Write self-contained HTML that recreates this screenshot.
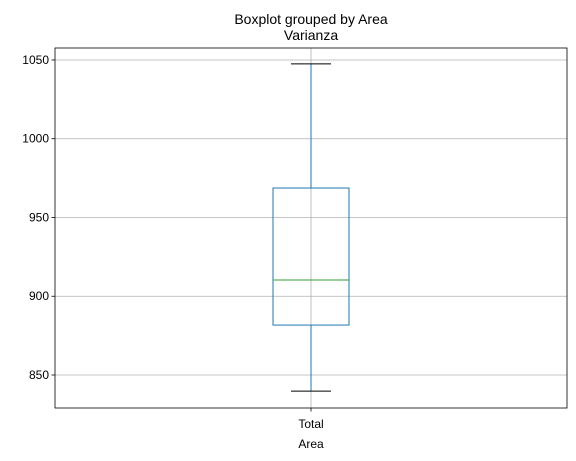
<!DOCTYPE html>
<html><head><meta charset="utf-8"><style>
body{margin:0;background:#fff;}
svg{display:block;font-family:"Liberation Sans","DejaVu Sans",sans-serif;}
</style></head><body>
<svg id="chart" width="576" height="461" xmlns="http://www.w3.org/2000/svg">
<text x="311" y="24" font-size="14" text-anchor="middle">Boxplot grouped by Area</text>
<text x="311" y="40" font-size="14" text-anchor="middle">Varianza</text>
<g id="grid"></g>
<g id="box"></g>
<rect x="55" y="48" width="512" height="360" fill="none" stroke="#000" stroke-width="0.8"/>
<g id="axes"></g>
<text x="311" y="448" font-size="12" text-anchor="middle">Area</text>
</svg>
<script>
const categories = ["Total"];
const whiskerLow = [839.8];
const q1 = [881.7];
const median = [910.3];
const q3 = [968.7];
const whiskerHigh = [1047.5];
const yTicks = [850, 900, 950, 1000, 1050];

const L=55,R=567,T=48,B=408,yMin=829.05,yMax=1057.6;
const y=v=>B-(v-yMin)/(yMax-yMin)*(B-T);
const x=i=>L+(R-L)*(i+1)/(categories.length+1);
const NS="http://www.w3.org/2000/svg";
function mk(tag,attrs,parent){const e=document.createElementNS(NS,tag);for(const k in attrs)e.setAttribute(k,attrs[k]);parent.appendChild(e);return e;}
const grid=document.getElementById('grid'),axes=document.getElementById('axes'),box=document.getElementById('box');
yTicks.forEach(t=>{
  const g=mk('line',{x1:L,x2:R,y1:y(t),y2:y(t),stroke:'#b0b0b0','stroke-width':0.8},grid);
  
  
  const tk=mk('line',{x1:L-3.5,x2:L,y1:y(t),y2:y(t),stroke:'#000','stroke-width':0.8},axes);
  
  
  const tx=mk('text',{x:L-6,y:y(t)+4,'font-size':12,'text-anchor':'end'},axes);
  tx.textContent=t;
  
  
});
categories.forEach((c,i)=>{
  const cx=x(i);
  const vg=mk('line',{x1:cx,x2:cx,y1:T,y2:B,stroke:'#b0b0b0','stroke-width':0.8},grid);
  
  
  const bw=76,cw=40;
  const w1=mk('line',{x1:cx,x2:cx,y1:y(whiskerHigh[i]),y2:y(q3[i]),stroke:'#1f77b4'},box);
  
  
  const w2=mk('line',{x1:cx,x2:cx,y1:y(q1[i]),y2:y(whiskerLow[i]),stroke:'#1f77b4'},box);
  
  
  const r=mk('rect',{x:cx-bw/2,y:y(q3[i]),width:bw,height:y(q1[i])-y(q3[i]),fill:'none',stroke:'#1f77b4'},box);
  
  
  const m=mk('line',{x1:cx-bw/2,x2:cx+bw/2,y1:y(median[i]),y2:y(median[i]),stroke:'#2ca02c'},box);
  
  
  const c1=mk('line',{x1:cx-cw/2,x2:cx+cw/2,y1:y(whiskerHigh[i]),y2:y(whiskerHigh[i]),stroke:'#000'},box);
  
  
  const c2=mk('line',{x1:cx-cw/2,x2:cx+cw/2,y1:y(whiskerLow[i]),y2:y(whiskerLow[i]),stroke:'#000'},box);
  
  
  const xt=mk('line',{x1:cx,x2:cx,y1:B,y2:B+3.5,stroke:'#000','stroke-width':0.8},axes);
  
  
  const xl=mk('text',{x:cx,y:B+20,'font-size':12,'text-anchor':'middle'},axes);
  xl.textContent=c;
  
  
});
</script>
</body></html>
